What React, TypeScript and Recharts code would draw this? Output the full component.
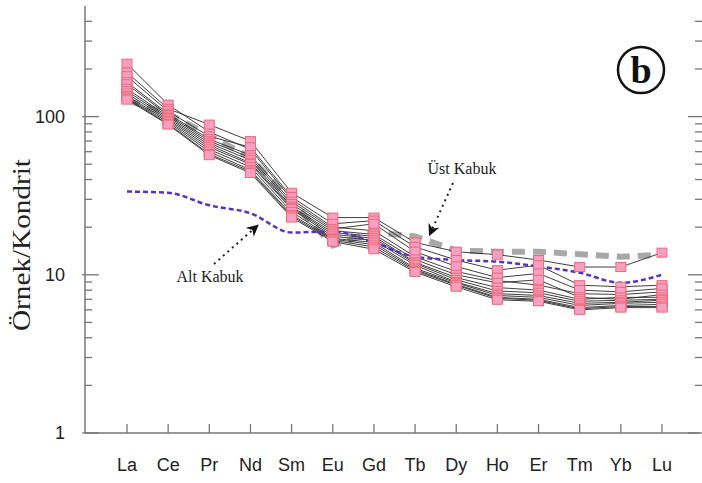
import React from "react";
import { LineChart, Line, XAxis, YAxis } from "recharts";

const ELEMENTS = ["La", "Ce", "Pr", "Nd", "Sm", "Eu", "Gd", "Tb", "Dy", "Ho", "Er", "Tm", "Yb", "Lu"];

// upper / lower crust reference patterns
const UST_KABUK = [127, 104, 76, 55, 29, 15.3, 18.6, 17.5, 14.2, 14, 14, 13.5, 13, 13.4];
const ALT_KABUK = [33.6, 33, 27.5, 24.5, 18.5, 18.8, 16, 13, 12.4, 12.1, 11.3, 10.3, 8.9, 10];

// samples (chondrite normalized)
const S1 = [216, 119, 80, 62, 30, 20, 19, 13, 10.5, 9.2, 8.6, 7.6, 7.5, 7.8];
const S2 = [190, 112, 89, 70, 33, 23, 23, 16, 14, 13.4, 12.4, 11.2, 11.2, 13.8];
const S3 = [180, 108, 75, 64, 31, 21, 22, 15, 12.4, 10.7, 11.5, 8.6, 8.4, 8.6];
const S4 = [165, 104, 72, 57, 29, 19.5, 21, 14, 11.3, 9.6, 10.2, 8.0, 7.8, 8.2];
const S5 = [160, 102, 70, 55, 28, 19, 18, 12.5, 10, 8.9, 9.3, 7.2, 7.0, 7.5];
const S6 = [150, 100, 68, 53, 27, 18.5, 17.5, 12, 9.6, 8.3, 8.0, 7.0, 7.2, 7.2];
const S7 = [145, 98, 66, 51, 26.5, 18, 17, 11.8, 9.3, 7.9, 7.7, 6.8, 6.9, 7.0];
const S8 = [140, 96, 64, 50, 26, 17.5, 16.5, 11.5, 9.0, 7.6, 7.4, 6.6, 6.7, 6.9];
const S9 = [135, 94, 62, 48, 25, 17, 16, 11, 8.9, 7.4, 7.2, 6.4, 6.6, 6.7];
const S10 = [132, 92, 60, 46, 24, 16.8, 15.5, 10.8, 8.7, 7.2, 7.0, 6.2, 6.4, 6.5];
const S11 = [130, 90, 58, 45, 23.5, 16.5, 15, 10.6, 8.6, 7.1, 6.9, 6.1, 6.3, 6.3];
const S12 = [128, 89, 57, 44, 23, 16.2, 14.5, 10.4, 8.4, 6.95, 6.8, 6.0, 6.2, 6.2];

const SAMPLES = [S1, S2, S3, S4, S5, S6, S7, S8, S9, S10, S11, S12];

const Y_TICKS = [1, 2, 3, 4, 5, 6, 7, 8, 9, 10, 20, 30, 40, 50, 60, 70, 80, 90, 100, 200, 300, 400];
const MAJOR = [1, 10, 100];

const data = ELEMENTS.map((el, i) => {
  const row: any = { el, ust: UST_KABUK[i], alt: ALT_KABUK[i] };
  SAMPLES.forEach((s, j) => {
    row["s" + (j + 1)] = s[i];
  });
  return row;
});

const AXIS = "#777";

const LeftTick = (props: any) => {
  const { x, y, payload } = props;
  const major = MAJOR.includes(payload.value);
  return (
    <g>
      <line x1={major ? x - 3 : x} x2={major ? x + 14 : x + 7} y1={y} y2={y} stroke={AXIS} strokeWidth={1.3} />
      {major && (
        <text x={x - 20} y={y} dy={6} textAnchor="end" fontSize={18} fontFamily="Liberation Sans, Arial" fill="#222">
          {payload.value}
        </text>
      )}
    </g>
  );
};

const RightTick = (props: any) => {
  const { x, y, payload } = props;
  const major = MAJOR.includes(payload.value);
  return <line x1={major ? x - 12 : x - 5} x2={x + 3} y1={y} y2={y} stroke={AXIS} strokeWidth={1.3} />;
};

const BottomTick = (props: any) => {
  const { x, y, payload } = props;
  return (
    <g>
      <line x1={x} x2={x} y1={y} y2={y - 9} stroke={AXIS} strokeWidth={1.3} />
      <text x={x} y={y + 38} textAnchor="middle" fontSize={18} fontFamily="Liberation Sans, Arial" fill="#222">
        {payload.value}
      </text>
    </g>
  );
};

const TopTick = (props: any) => {
  const { x, y } = props;
  return <line x1={x} x2={x} y1={y} y2={y + 12} stroke={AXIS} strokeWidth={1.3} />;
};

const SquareDot = (props: any) => {
  const { cx, cy, index } = props;
  if (cx == null || cy == null) return <g key={index} />;
  return (
    <rect key={index} x={cx - 5} y={cy - 4.5} width={10} height={9} fill="#f5a0c2" stroke="#ee6b78" strokeWidth={1} />
  );
};

export default function App() {
  return (
    <div style={{ position: "absolute", left: 0, top: 0, width: 702, height: 483, background: "#fff", overflow: "hidden" }}>
      <LineChart width={702} height={483} data={data} margin={{ top: 6, right: 0, bottom: 0, left: 0 }}>
        <XAxis
          dataKey="el"
          height={50}
          padding={{ left: 42, right: 38 }}
          tickSize={0}
          tickMargin={0}
          tickLine={false}
          interval={0}
          stroke={AXIS}
          strokeWidth={1.5}
          tick={<BottomTick />}
        />
        <XAxis
          xAxisId="top"
          orientation="top"
          dataKey="el"
          height={0}
          padding={{ left: 42, right: 38 }}
          tickSize={0}
          tickMargin={0}
          tickLine={false}
          interval={0}
          stroke={AXIS}
          strokeWidth={1.5}
          tick={<TopTick />}
        />
        <YAxis
          scale="log"
          domain={[1, 500]}
          allowDataOverflow
          ticks={Y_TICKS}
          interval={0}
          width={85}
          tickSize={0}
          tickMargin={0}
          tickLine={false}
          stroke={AXIS}
          strokeWidth={1.5}
          tick={<LeftTick />}
        />
        <YAxis
          yAxisId="right"
          orientation="right"
          scale="log"
          domain={[1, 500]}
          allowDataOverflow
          ticks={Y_TICKS}
          interval={0}
          width={2}
          tickSize={0}
          tickMargin={0}
          tickLine={false}
          axisLine={false}
          tick={<RightTick />}
        />
        <Line
          dataKey="ust"
          type="linear"
          stroke="#a8a8a8"
          strokeWidth={6}
          strokeDasharray="13 8"
          dot={false}
          isAnimationActive={false}
        />
        {SAMPLES.map((_, j) => (
          <Line
            key={j}
            dataKey={"s" + (j + 1)}
            type="linear"
            stroke="#2a2a2a"
            strokeWidth={0.9}
            dot={<SquareDot />}
            isAnimationActive={false}
          />
        ))}
        <Line
          dataKey="alt"
          type="monotone"
          stroke="#5533c4"
          strokeWidth={2.5}
          strokeDasharray="5 3"
          dot={false}
          isAnimationActive={false}
        />
      </LineChart>
      <svg
        width={702}
        height={483}
        style={{ position: "absolute", left: 0, top: 0, pointerEvents: "none" }}
      >
        <defs>
          <marker id="arr" viewBox="0 0 10 10" refX="8" refY="5" markerWidth="12" markerHeight="12" markerUnits="userSpaceOnUse" orient="auto">
            <path d="M0,0 L10,5 L0,10 L3,5 z" fill="#111" />
          </marker>
        </defs>
        <text
          transform="translate(30,245) rotate(-90)"
          textAnchor="middle"
          fontSize={26}
          textLength={172}
          lengthAdjust="spacingAndGlyphs"
          fontFamily="Liberation Serif, Times New Roman, serif"
          fill="#222"
        >
          Örnek/Kondrit
        </text>
        <text x={462} y={174} textAnchor="middle" fontSize={16} fontFamily="Liberation Serif, Times New Roman, serif" fill="#222">
          Üst Kabuk
        </text>
        <line x1={453} y1={183} x2={430} y2={234} stroke="#222" strokeWidth={2} strokeDasharray="2 4" markerEnd="url(#arr)" />
        <text x={210} y={282} textAnchor="middle" fontSize={16} fontFamily="Liberation Serif, Times New Roman, serif" fill="#222">
          Alt Kabuk
        </text>
        <line x1={214} y1={264} x2={257} y2={226} stroke="#222" strokeWidth={2} strokeDasharray="2 4" markerEnd="url(#arr)" />
        <circle cx={641} cy={70} r={23} fill="none" stroke="#111" strokeWidth={2.5} />
        <text x={641} y={83} textAnchor="middle" fontSize={38} fontWeight="bold" fontFamily="Liberation Serif, Times New Roman, serif" fill="#111">
          b
        </text>
      </svg>
    </div>
  );
}
